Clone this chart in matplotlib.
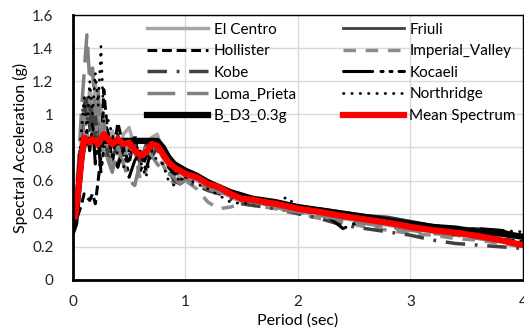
import matplotlib
matplotlib.use("Agg")
import matplotlib.pyplot as plt

plt.rcParams["font.family"] = ["Lato", "DejaVu Sans"]
plt.rcParams["lines.scale_dashes"] = False

# Period (sec)
period = [0, 0.02, 0.05, 0.075, 0.1, 0.125, 0.15, 0.175, 0.2, 0.225,
          0.25, 0.275, 0.3, 0.35, 0.4, 0.45, 0.5, 0.55, 0.6, 0.65,
          0.7, 0.75, 0.8, 0.85, 0.9, 0.95, 1.0, 1.1, 1.2, 1.3,
          1.4, 1.5, 1.6, 1.7, 1.8, 1.9, 2.0, 2.2, 2.4, 2.6,
          2.8, 3.0, 3.2, 3.4, 3.6, 3.8, 4.0]

el_centro = [0.35, 0.40, 0.60, 0.85, 1.05, 0.95, 1.15, 1.00, 1.20, 0.90,
             1.05, 0.85, 0.80, 0.90, 0.78, 0.88, 0.92, 0.80, 0.70, 0.80,
             0.86, 0.88, 0.78, 0.68, 0.66, 0.62, 0.62, 0.60, 0.56, 0.54,
             0.50, 0.47, 0.47, 0.46, 0.45, 0.43, 0.41, 0.39, 0.37, 0.35,
             0.33, 0.31, 0.29, 0.28, 0.26, 0.24, 0.22]
friuli = [0.32, 0.36, 0.52, 0.75, 0.95, 1.10, 0.90, 1.05, 0.85, 0.95,
          0.80, 0.92, 0.78, 0.70, 0.88, 0.75, 0.80, 0.85, 0.72, 0.82,
          0.78, 0.84, 0.80, 0.72, 0.70, 0.67, 0.65, 0.63, 0.59, 0.57,
          0.53, 0.50, 0.49, 0.48, 0.465, 0.45, 0.44, 0.43, 0.41, 0.39,
          0.38, 0.355, 0.33, 0.31, 0.31, 0.29, 0.27]
hollister = [0.30, 0.34, 0.40, 0.45, 0.52, 0.50, 0.48, 0.52, 0.46, 0.60,
             0.75, 1.15, 0.95, 0.72, 0.95, 0.80, 0.70, 0.88, 0.66, 0.74,
             0.85, 0.80, 0.74, 0.70, 0.64, 0.61, 0.60, 0.62, 0.60, 0.56,
             0.51, 0.50, 0.47, 0.46, 0.45, 0.43, 0.42, 0.40, 0.38, 0.36,
             0.34, 0.32, 0.30, 0.28, 0.27, 0.25, 0.23]
imperial_valley = [0.33, 0.38, 0.58, 0.80, 1.00, 0.85, 1.10, 0.92, 0.80, 1.05,
                   0.90, 0.75, 0.85, 0.68, 0.78, 0.72, 0.85, 0.78, 0.60, 0.66,
                   0.80, 0.74, 0.70, 0.62, 0.58, 0.62, 0.60, 0.55, 0.47, 0.43,
                   0.44, 0.46, 0.45, 0.44, 0.43, 0.41, 0.40, 0.37, 0.35, 0.32,
                   0.30, 0.28, 0.27, 0.25, 0.24, 0.22, 0.20]
kobe = [0.34, 0.42, 0.65, 0.90, 1.10, 0.95, 1.05, 0.88, 1.00, 0.80,
        0.90, 0.82, 0.75, 0.85, 0.70, 0.80, 0.75, 0.82, 0.70, 0.78,
        0.74, 0.80, 0.70, 0.66, 0.60, 0.58, 0.60, 0.57, 0.54, 0.52,
        0.49, 0.46, 0.45, 0.44, 0.43, 0.42, 0.40, 0.37, 0.33, 0.31,
        0.29, 0.27, 0.24, 0.22, 0.21, 0.20, 0.19]
kocaeli = [0.28, 0.32, 0.45, 0.65, 0.80, 0.90, 0.78, 0.95, 0.70, 0.85,
           0.65, 0.80, 0.92, 0.75, 0.68, 0.80, 0.62, 0.72, 0.78, 0.66,
           0.80, 0.84, 0.76, 0.68, 0.64, 0.65, 0.66, 0.61, 0.57, 0.55,
           0.53, 0.50, 0.48, 0.47, 0.46, 0.44, 0.43, 0.42, 0.31, 0.37,
           0.35, 0.33, 0.31, 0.30, 0.31, 0.30, 0.26]
loma_prieta = [0.36, 0.45, 0.70, 1.00, 1.25, 1.48, 1.20, 1.28, 1.00, 1.15,
               0.85, 1.00, 0.75, 0.65, 0.80, 0.70, 0.60, 0.57, 0.72, 0.80,
               0.75, 0.70, 0.66, 0.64, 0.62, 0.58, 0.60, 0.59, 0.55, 0.53,
               0.51, 0.48, 0.47, 0.46, 0.44, 0.42, 0.41, 0.39, 0.36, 0.34,
               0.32, 0.30, 0.28, 0.27, 0.25, 0.23, 0.21]
northridge = [0.40, 0.45, 0.65, 0.90, 1.10, 0.90, 1.20, 1.00, 1.25, 1.05,
              1.41, 0.95, 1.00, 0.88, 0.75, 0.68, 0.78, 0.86, 0.72, 0.62,
              0.78, 0.72, 0.70, 0.60, 0.57, 0.62, 0.62, 0.58, 0.55, 0.51,
              0.47, 0.46, 0.47, 0.48, 0.46, 0.50, 0.44, 0.41, 0.39, 0.37,
              0.35, 0.33, 0.30, 0.27, 0.29, 0.30, 0.29]
b_d3 = [0.30, 0.34, 0.55, 0.75, 0.83, 0.83, 0.84, 0.84, 0.84, 0.83,
        0.83, 0.84, 0.84, 0.84, 0.83, 0.84, 0.84, 0.84, 0.84, 0.84,
        0.84, 0.84, 0.80, 0.74, 0.70, 0.68, 0.66, 0.63, 0.59, 0.56,
        0.53, 0.51, 0.49, 0.48, 0.47, 0.455, 0.44, 0.42, 0.40, 0.38,
        0.36, 0.34, 0.32, 0.31, 0.29, 0.28, 0.26]
mean_spectrum = [0.48, 0.38, 0.55, 0.72, 0.86, 0.84, 0.83, 0.85, 0.84, 0.82,
                 0.85, 0.88, 0.86, 0.82, 0.85, 0.82, 0.83, 0.78, 0.75, 0.77,
                 0.82, 0.81, 0.76, 0.71, 0.68, 0.66, 0.64, 0.62, 0.58, 0.56,
                 0.52, 0.49, 0.485, 0.47, 0.46, 0.445, 0.43, 0.41, 0.385, 0.365,
                 0.345, 0.32, 0.30, 0.285, 0.265, 0.24, 0.21]

fig = plt.figure(figsize=(5.24, 3.34), dpi=100)
ax = fig.add_axes([0.139, 0.162, 0.859, 0.793])

h = {}
h["El Centro"], = ax.plot(period, el_centro, color="#a6a6a6", lw=2.5)
h["Friuli"], = ax.plot(period, friuli, color="#404040", lw=2)
h["Hollister"], = ax.plot(period, hollister, color="black", lw=2.2, dashes=(7, 3.5))
h["Imperial_Valley"], = ax.plot(period, imperial_valley, color="#8c8c8c", lw=2.5, dashes=(9, 7))
h["Kobe"], = ax.plot(period, kobe, color="#404040", lw=2.5, dashes=(14, 7, 2, 7))
h["Kocaeli"], = ax.plot(period, kocaeli, color="black", lw=2.2,
                        dashes=(21, 6, 1.5, 5, 1.5, 5), dash_capstyle="round")
h["Loma_Prieta"], = ax.plot(period, loma_prieta, color="#808080", lw=2.5, dashes=(20, 8.5))
h["Northridge"], = ax.plot(period, northridge, color="black", lw=2,
                           dashes=(0.3, 5.7), dash_capstyle="round")
h["B_D3_0.3g"], = ax.plot(period, b_d3, color="black", lw=4.5)
h["Mean Spectrum"], = ax.plot(period, mean_spectrum, color="#ff0000", lw=4.5)

ax.set_xlim(0, 4)
ax.set_ylim(0, 1.6)
ax.set_xticks([0, 1, 2, 3, 4])
ax.set_xticklabels(["0", "1", "2", "3", "4"])
ax.set_yticks([0, 0.2, 0.4, 0.6, 0.8, 1.0, 1.2, 1.4, 1.6])
ax.set_yticklabels(["0", "0.2", "0.4", "0.6", "0.8", "1", "1.2", "1.4", "1.6"])
ax.tick_params(axis="both", length=0, labelsize=11, colors="#222222")
ax.tick_params(axis="x", pad=11)
ax.tick_params(axis="y", pad=14)
ax.grid(True, color="#d9d9d9", lw=1)
ax.set_axisbelow(True)
for side in ["top", "right"]:
    ax.spines[side].set_linewidth(1)
for side in ["left", "bottom"]:
    ax.spines[side].set_linewidth(2)

ax.set_xlabel("Period (sec)", fontsize=11.5, labelpad=3)
ax.set_ylabel("Spectral Acceleration (g)", fontsize=11.5, labelpad=3)

order = ["El Centro", "Hollister", "Kobe", "Loma_Prieta", "B_D3_0.3g",
         "Friuli", "Imperial_Valley", "Kocaeli", "Northridge", "Mean Spectrum"]
ax.legend([h[k] for k in order], order, ncol=2, frameon=False, loc="upper left",
          bbox_to_anchor=(0.14, 1.015), fontsize=11, handlelength=4.0,
          handletextpad=0.35, columnspacing=3.0, labelspacing=0.5, borderpad=0.25)

fig.savefig("out.png", dpi=100)
